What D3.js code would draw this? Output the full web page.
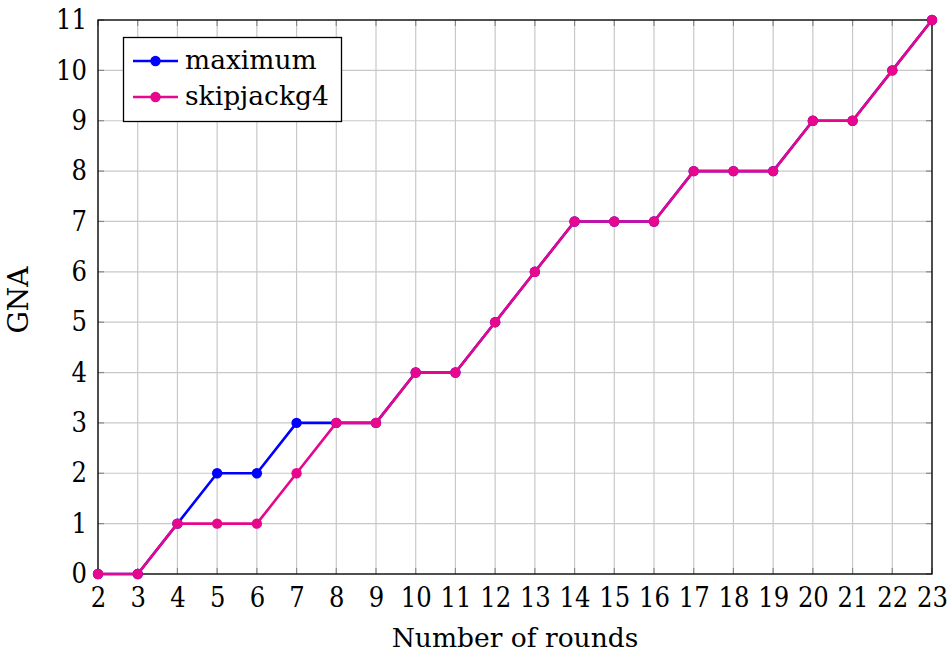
<!DOCTYPE html>
<html><head><meta charset="utf-8">
<script src="https://cdn.jsdelivr.net/npm/d3@7"></script>
<style>body{margin:0;background:#fff}</style>
</head><body>
<svg id="c" width="950" height="652"></svg>
<script>
const rounds = [2,3,4,5,6,7,8,9,10,11,12,13,14,15,16,17,18,19,20,21,22,23];
const maximumVals = [0,0,1,2,2,3,3,3,4,4,5,6,7,7,7,8,8,8,9,9,10,11];
const skipjackVals = [0,0,1,1,1,2,3,3,4,4,5,6,7,7,7,8,8,8,9,9,10,11];
const yTicks = [0,1,2,3,4,5,6,7,8,9,10,11];
const seriesNames = ["maximum","skipjackg4"];
const seriesColors = ["#0000ff","#e6078c"];
const FONT = "'DejaVu Serif', serif";
const FONTC = "'DejaVu Serif Condensed', 'DejaVu Serif', serif";

const svg = d3.select("#c");
const L=98,R=932,T=20,B=574;
const x = d3.scaleLinear().domain([2,23]).range([L,R]);
const y = d3.scaleLinear().domain([0,11]).range([B,T]);

const g = svg.append("g");
g.selectAll(".vx").data(rounds).join("line").attr("x1",d=>x(d)).attr("x2",d=>x(d)).attr("y1",T).attr("y2",B).attr("stroke","#c8c8c8").attr("stroke-width",1.2);
g.selectAll(".hy").data(yTicks).join("line").attr("y1",d=>y(d)).attr("y2",d=>y(d)).attr("x1",L).attr("x2",R).attr("stroke","#c8c8c8").attr("stroke-width",1.2);
const tl=6;
g.selectAll(".tb").data(rounds).join("line").attr("x1",d=>x(d)).attr("x2",d=>x(d)).attr("y1",B).attr("y2",B-tl).attr("stroke","#888").attr("stroke-width",1.2);
g.selectAll(".tt").data(rounds).join("line").attr("x1",d=>x(d)).attr("x2",d=>x(d)).attr("y1",T).attr("y2",T+tl).attr("stroke","#888").attr("stroke-width",1.2);
g.selectAll(".tl").data(yTicks).join("line").attr("y1",d=>y(d)).attr("y2",d=>y(d)).attr("x1",L).attr("x2",L+tl).attr("stroke","#888").attr("stroke-width",1.2);
g.selectAll(".tr").data(yTicks).join("line").attr("y1",d=>y(d)).attr("y2",d=>y(d)).attr("x1",R).attr("x2",R-tl).attr("stroke","#888").attr("stroke-width",1.2);

const xa = svg.append("g").attr("transform",`translate(0,${B})`).call(d3.axisBottom(x).tickValues(rounds).tickSize(0).tickPadding(14).tickFormat(d3.format("d")));
xa.select(".domain").remove();
xa.attr("font-family",null).attr("font-size",null);
xa.selectAll("text").style("font-family",FONTC).style("font-size","27px").attr("fill","#000");
const ya = svg.append("g").attr("transform",`translate(${L},0)`).call(d3.axisLeft(y).tickValues(yTicks).tickSize(0).tickPadding(11).tickFormat(d3.format("d")));
ya.select(".domain").remove();
ya.attr("font-family",null).attr("font-size",null);
ya.selectAll("text").style("font-family",FONTC).style("font-size","27px").attr("fill","#000");

svg.append("rect").attr("x",L).attr("y",T).attr("width",R-L).attr("height",B-T).attr("fill","none").attr("stroke","#000").attr("stroke-width",1.3);

const series = [maximumVals, skipjackVals];
const line = d3.line().x((d,i)=>x(rounds[i])).y(d=>y(d));
series.forEach((vals,si)=>{
  svg.append("path").datum(vals).attr("d",line).attr("fill","none").attr("stroke",seriesColors[si]).attr("stroke-width",2.6).attr("stroke-linejoin","round");
  svg.append("g").selectAll("circle").data(vals).join("circle").attr("cx",(d,i)=>x(rounds[i])).attr("cy",d=>y(d)).attr("r",5.2).attr("fill",seriesColors[si]);
});

svg.append("text").attr("x",515).attr("y",647).attr("text-anchor","middle").style("font-family",FONT).style("font-size","26.5px").text("Number of rounds");
svg.append("text").attr("transform",`translate(28,300) rotate(-90)`).attr("text-anchor","middle").style("font-family",FONT).style("font-size","28px").text("GNA");

const lg = svg.append("g");
lg.append("rect").attr("x",123.5).attr("y",37.5).attr("width",218).attr("height",84).attr("fill","#fff").attr("stroke","#000").attr("stroke-width",1.3);
seriesNames.forEach((n,i)=>{
  const yy = 61 + i*36;
  lg.append("line").attr("x1",133).attr("x2",178).attr("y1",yy).attr("y2",yy).attr("stroke",seriesColors[i]).attr("stroke-width",2.6);
  lg.append("circle").attr("cx",155.5).attr("cy",yy).attr("r",5.2).attr("fill",seriesColors[i]);
  lg.append("text").attr("x",185).attr("y",yy+8).style("font-family",FONT).style("font-size","26.5px").text(n);
});
</script>
</body></html>
